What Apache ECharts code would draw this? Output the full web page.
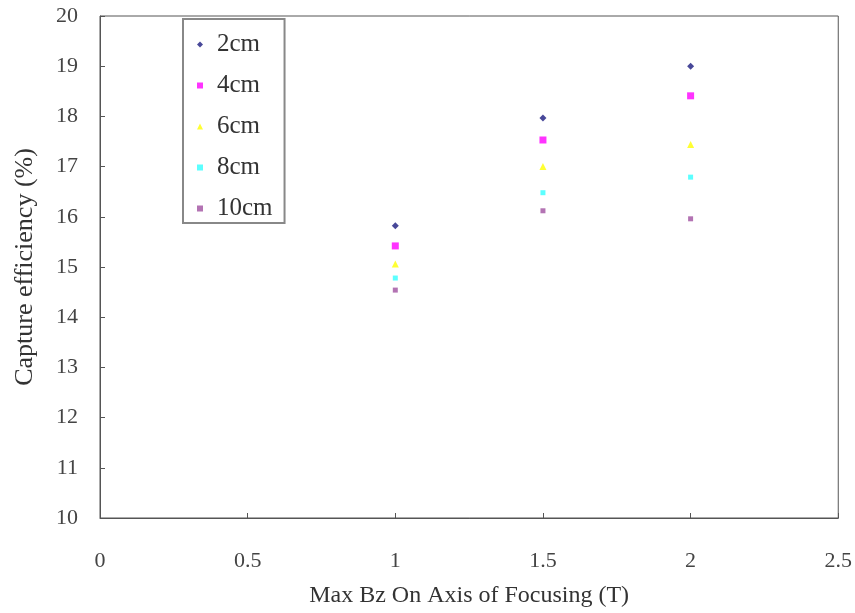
<!DOCTYPE html>
<html><head><meta charset="utf-8">
<script src="https://cdn.jsdelivr.net/npm/echarts@6/dist/echarts.min.js"></script>
<style>html,body{margin:0;padding:0;background:#fff}#c{width:855px;height:613px}</style>
</head><body><div id="c"></div>
<script>
const xValues = [1, 1.5, 2];
const seriesNames = ['2cm', '4cm', '6cm', '8cm', '10cm'];
const s2cm = [15.82, 17.97, 19.0];
const s4cm = [15.42, 17.53, 18.41];
const s6cm = [15.06, 17.0, 17.44];
const s8cm = [14.78, 16.48, 16.79];
const s10cm = [14.54, 16.12, 15.96];
const allValues = [s2cm, s4cm, s6cm, s8cm, s10cm];
const colors = ['#1a1a80', '#ff00ff', '#ffff00', '#33ffff', '#a050a0'];
const symbols = ['diamond', 'rect', 'triangle', 'rect', 'rect'];
const sizes = [7, 7, 7, 5, 5];

const chart = echarts.init(document.getElementById('c'));
const font = 'Liberation Serif, Times New Roman, serif';
chart.setOption({
  backgroundColor: '#fff',
  animation: false,
  grid: { left: 100, right: 15, top: 16, bottom: 93, show: true, borderColor: '#555', borderWidth: 1 },
  legend: {
    orient: 'vertical', left: 183, top: 19,
    itemWidth: 6, itemHeight: 6, itemGap: 16,
    padding: [13, 12, 2, 14],
    borderColor: '#888', borderWidth: 2,
    backgroundColor: '#fff',
    textStyle: { fontFamily: font, fontSize: 25, color: '#333', padding: [0, 0, 0, 9] },
    data: seriesNames
  },
  xAxis: {
    type: 'value', min: 0, max: 2.5, interval: 0.5,
    name: 'Max Bz On Axis of Focusing (T)', nameLocation: 'middle', nameGap: 66,
    nameTextStyle: { fontFamily: font, fontSize: 24, color: '#333' },
    axisLine: { show: true, lineStyle: { color: '#555' } },
    axisTick: { show: true, inside: true, length: 5, lineStyle: { color: '#555' } },
    axisLabel: { fontFamily: font, fontSize: 22, color: '#444', margin: 32 },
    splitLine: { show: false }
  },
  yAxis: {
    type: 'value', min: 10, max: 20, interval: 1,
    name: 'Capture efficiency (%)', nameLocation: 'middle', nameGap: 62,
    nameTextStyle: { fontFamily: font, fontSize: 26, color: '#333' },
    axisLine: { show: true, lineStyle: { color: '#555' } },
    axisTick: { show: true, inside: true, length: 5, lineStyle: { color: '#555' } },
    axisLabel: { fontFamily: font, fontSize: 22, color: '#444', margin: 22 },
    splitLine: { show: false }
  },
  series: seriesNames.map((n, i) => ({
    name: n, type: 'scatter',
    symbol: symbols[i], symbolSize: sizes[i],
    itemStyle: { color: colors[i] },
    data: xValues.map((x, j) => [x, allValues[i][j]])
  }))
});
</script></body></html>
